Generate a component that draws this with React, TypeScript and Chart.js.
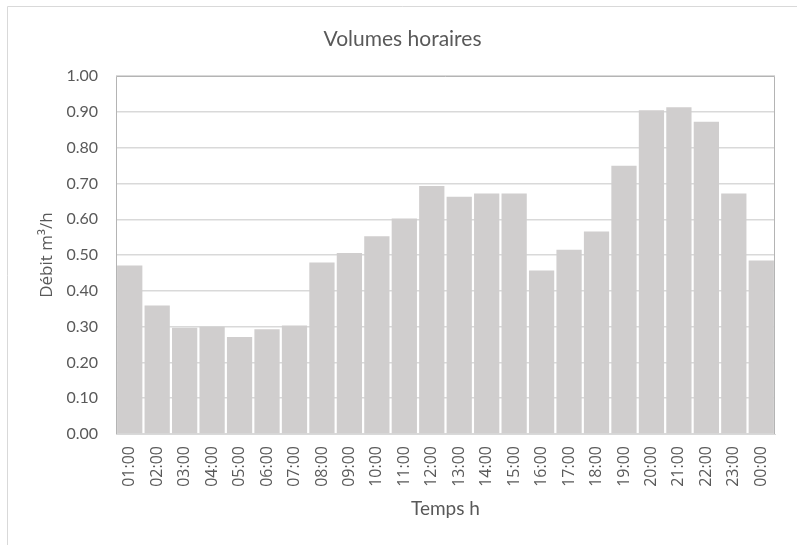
import React, { useEffect, useRef } from "react";
import { Chart, registerables } from "chart.js";

Chart.register(...registerables);

const categories: string[] = [
  "01:00", "02:00", "03:00", "04:00", "05:00", "06:00", "07:00", "08:00",
  "09:00", "10:00", "11:00", "12:00", "13:00", "14:00", "15:00", "16:00",
  "17:00", "18:00", "19:00", "20:00", "21:00", "22:00", "23:00", "00:00",
];

const debit: number[] = [
  0.471, 0.359, 0.297, 0.300, 0.271, 0.293, 0.303, 0.479,
  0.506, 0.553, 0.602, 0.693, 0.663, 0.672, 0.672, 0.457,
  0.515, 0.566, 0.750, 0.905, 0.913, 0.873, 0.672, 0.485,
];

const chartTitle = "Volumes horaires";
const yTitle = "Débit m³/h";
const xTitle = "Temps h";

const TEXT = "#595959";

const framePlugin = {
  id: "frame",
  beforeDraw(chart: any) {
    const ctx = chart.ctx;
    ctx.save();
    ctx.strokeStyle = "#d9d9d9";
    ctx.lineWidth = 1;
    ctx.beginPath();
    ctx.moveTo(7.5, 545);
    ctx.lineTo(7.5, 6.5);
    ctx.lineTo(797, 6.5);
    ctx.stroke();
    ctx.restore();
  },
  afterDraw(chart: any) {
    const { ctx, chartArea } = chart;
    ctx.save();
    ctx.strokeStyle = "#b4b4b4";
    ctx.lineWidth = 1;
    ctx.beginPath();
    ctx.moveTo(Math.round(chartArea.left) + 0.5, Math.round(chartArea.bottom));
    ctx.lineTo(Math.round(chartArea.left) + 0.5, Math.round(chartArea.top) + 0.5);
    ctx.lineTo(Math.round(chartArea.right) - 0.5, Math.round(chartArea.top) + 0.5);
    ctx.lineTo(Math.round(chartArea.right) - 0.5, Math.round(chartArea.bottom));
    ctx.stroke();
    ctx.restore();
  },
};

export default function App() {
  const ref = useRef<HTMLCanvasElement | null>(null);

  useEffect(() => {
    if (!ref.current) return;
    const chart = new Chart(ref.current, {
      type: "bar",
      data: {
        labels: categories,
        datasets: [
          {
            label: "Débit",
            data: debit,
            backgroundColor: "#d0cece",
            borderWidth: 0,
            barPercentage: 0.92,
            categoryPercentage: 1,
          },
        ],
      },
      options: {
        responsive: false,
        animation: false,
        layout: { padding: { left: 30, right: 22, top: 0, bottom: 0 } },
        plugins: {
          legend: { display: false },
          tooltip: { enabled: false },
          title: {
            display: true,
            text: chartTitle,
            color: TEXT,
            font: { family: "Lato", size: 21, weight: "normal" },
            padding: { top: 27, bottom: 24 },
          },
        },
        scales: {
          x: {
            grid: { display: false, drawTicks: false },
            border: { display: true, color: "#d9d9d9", width: 1 },
            ticks: {
              color: TEXT,
              font: { family: "Open Sans", size: 16 },
              maxRotation: 90,
              minRotation: 90,
              padding: 12,
              autoSkip: false,
            },
            title: {
              display: true,
              text: xTitle,
              color: TEXT,
              font: { family: "Lato", size: 19 },
              padding: { top: 0, bottom: 25 },
            },
            afterFit(scale: any) {
              scale.height = 111;
            },
          },
          y: {
            min: 0,
            max: 1,
            ticks: {
              stepSize: 0.1,
              color: TEXT,
              font: { family: "Lato", size: 16 },
              padding: 18,
              callback: (v: any) => Number(v).toFixed(2),
            },
            grid: { color: "#d9d9d9", lineWidth: 1.5, drawTicks: false },
            border: { display: false },
            title: {
              display: true,
              text: yTitle,
              color: TEXT,
              font: { family: "Open Sans", size: 17 },
              padding: { top: 7, bottom: 0 },
            },
            afterFit(scale: any) {
              scale.width = 86;
            },
          },
        },
      },
      plugins: [framePlugin],
    });
    return () => chart.destroy();
  }, []);

  return (
    <div style={{ position: "fixed", left: 0, top: 0, width: 797, height: 545, background: "#fff" }}>
      <canvas ref={ref} width={797} height={545} style={{ display: "block" }} />
    </div>
  );
}
